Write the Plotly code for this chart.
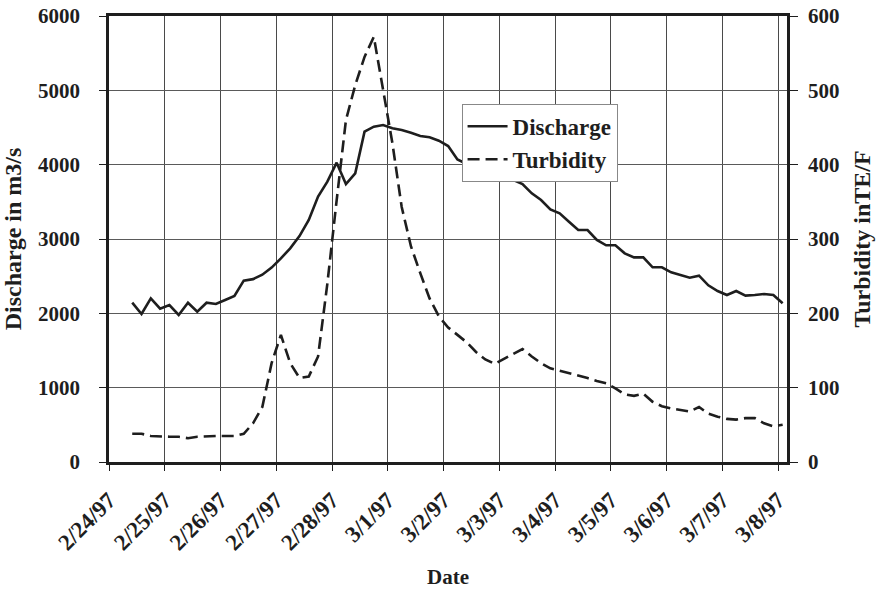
import pandas as pd
import plotly.graph_objects as go

# Sampling times: every 4 hours from 2/24/97 10:00
times = pd.date_range("1997-02-24 10:00", periods=71, freq="4h")

discharge = [2143, 1991, 2202, 2062, 2112, 1978, 2143, 2022, 2143, 2126,
             2180, 2233, 2440, 2460, 2520, 2615, 2740, 2874, 3040, 3256,
             3570, 3771, 4027, 3740, 3883, 4444, 4511, 4534, 4489, 4466,
             4430, 4386, 4368, 4323, 4251, 4070, 4010, 3975, 3945, 3910,
             3850, 3800, 3740, 3614, 3525, 3399, 3345, 3233, 3121, 3121,
             2987, 2915, 2915, 2807, 2753, 2753, 2619, 2619, 2552, 2516,
             2480, 2507, 2377, 2300, 2247, 2300, 2238, 2247, 2260, 2247,
             2135]

turbidity = [38, 38, 35, 34, 34, 34, 32, 34, 35, 35,
             35, 35, 38, 52, 74, 133, 171, 133, 113, 115,
             142, 240, 352, 460, 507, 545, 572, 503, 429, 343,
             290, 254, 220, 196, 181, 171, 161, 148, 138, 132,
             139, 146, 152, 142, 133, 126, 123, 120, 116, 113,
             109, 106, 99, 91, 89, 92, 81, 75, 72, 70,
             68, 74, 65, 61, 58, 57, 59, 59, 52, 48,
             50]

x_range = ["1997-02-24 00:00", "1997-03-08 03:52"]
y_left_range = [0, 6000]
y_right_range = [0, 600]

FONT = "Liberation Serif, Times New Roman, serif"
INK = "#1e1e1e"

fig = go.Figure()
fig.add_trace(go.Scatter(x=times, y=discharge, name="Discharge", mode="lines",
                         line=dict(color=INK, width=2.6), yaxis="y"))
fig.add_trace(go.Scatter(x=times, y=turbidity, name="Turbidity", mode="lines",
                         line=dict(color=INK, width=2.6, dash="12px,6px"), yaxis="y2"))

fig.update_layout(
    width=878, height=589,
    margin=dict(l=109, r=91, t=16, b=127),
    paper_bgcolor="white", plot_bgcolor="white",
    font=dict(family=FONT, size=20, color=INK, weight="bold"),
    showlegend=True,
    legend=dict(x=0.52, y=0.803, xanchor="left", yanchor="top",
                bgcolor="white", bordercolor="#888888", borderwidth=1,
                font=dict(family=FONT, size=23, color=INK, weight="bold"),
                tracegroupgap=0, itemwidth=40),
    xaxis=dict(
        type="date", range=x_range, tick0="1997-02-24", dtick=86400000,
        tickformat="%-m/%-d/%y", tickangle=-45, automargin=False,
        showgrid=True, gridcolor="#4a4a4a", gridwidth=1,
        ticks="outside", ticklen=6, tickcolor=INK, tickwidth=1,
        showline=True, linecolor=INK, linewidth=2.5, mirror=True,
        ticklabelstandoff=7,
        tickfont=dict(family=FONT, size=23, color=INK, weight="bold"),
        title=dict(text="Date", font=dict(family=FONT, size=21, color=INK, weight="bold"),
                   standoff=16),
        zeroline=False,
    ),
    yaxis=dict(
        range=y_left_range, dtick=1000, tick0=0, automargin=False,
        showgrid=True, gridcolor="#5a5a5a", gridwidth=1,
        ticks="outside", ticklen=7, tickcolor=INK, tickwidth=1,
        showline=True, linecolor=INK, linewidth=2.5,
        ticklabelstandoff=15,
        tickfont=dict(family=FONT, size=21, color=INK, weight="bold"),
        title=dict(text="Discharge in m3/s", font=dict(family=FONT, size=24, color=INK, weight="bold"),
                   standoff=11),
        zeroline=False,
    ),
    yaxis2=dict(
        range=y_right_range, dtick=100, tick0=0, overlaying="y", side="right",
        automargin=False, showgrid=False,
        ticks="outside", ticklen=8, tickcolor=INK, tickwidth=1,
        showline=True, linecolor=INK, linewidth=2.5,
        ticklabelstandoff=6,
        tickfont=dict(family=FONT, size=21, color=INK, weight="bold"),
        title=dict(text="Turbidity inTE/F", font=dict(family=FONT, size=24, color=INK, weight="bold"),
                   standoff=15),
        zeroline=False,
    ),
)

fig.write_html("out.html")
